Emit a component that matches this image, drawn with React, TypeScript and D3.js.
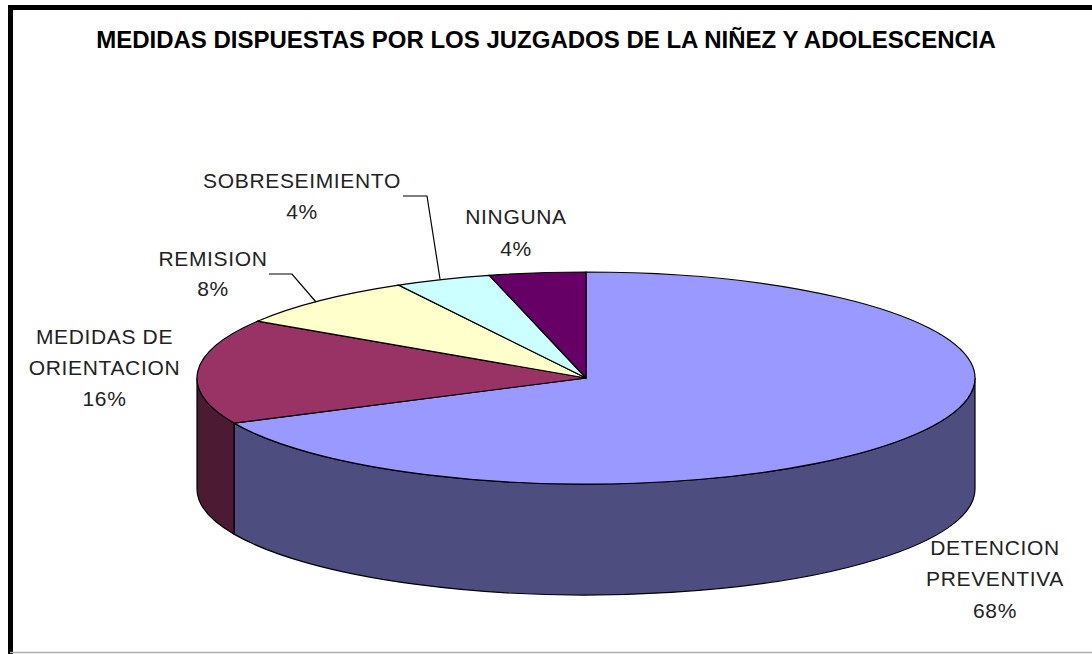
import React from "react";
import * as d3 from "d3";

const categories = ["DETENCION PREVENTIVA", "MEDIDAS DE ORIENTACION", "REMISION", "SOBRESEIMIENTO", "NINGUNA"];
const values = [68, 16, 8, 4, 4];
const topColors = ["#9999ff", "#993366", "#ffffcc", "#ccffff", "#660066"];
const sideColors = ["#4d4d80", "#4d1a33", "#808066", "#668080", "#330033"];
const labelLines = [["DETENCION", "PREVENTIVA", "68%"], ["MEDIDAS DE", "ORIENTACION", "16%"], ["REMISION", "8%"], ["SOBRESEIMIENTO", "4%"], ["NINGUNA", "4%"]];
const labelAnchors = [[995, 554.5], [104.5, 343.5], [213, 265.5], [302, 187.5], [516, 223.5]];
const labelGaps = [[0, 31, 63], [0, 31, 62], [0, 30], [0, 31], [0, 32]];
const leaders = [
  [[403, 196], [427, 196], [440, 279]],
  [[269, 274], [292, 274], [316, 302]],
];
const title = "MEDIDAS DISPUESTAS POR LOS JUZGADOS DE LA NIÑEZ Y ADOLESCENCIA";

const W = 1092, H = 654;
const cx = 586, cy = 378, rx = 389, ry = 106, depth = 111;

export default function App() {
  const arcs = d3.pie<number>().sort(null)(values);
  const arc = d3.arc<d3.PieArcDatum<number>>().innerRadius(0).outerRadius(rx);
  const px = (a: number) => cx + rx * Math.sin(a);
  const py = (a: number) => cy - ry * Math.cos(a);
  const wall = (a0: number, a1: number) => {
    const s = Math.max(a0, Math.PI / 2), e = Math.min(a1, (3 * Math.PI) / 2);
    if (e <= s) return null;
    return `M${px(s)},${py(s)}A${rx},${ry} 0 0 1 ${px(e)},${py(e)}L${px(e)},${py(e) + depth}A${rx},${ry} 0 0 0 ${px(s)},${py(s) + depth}Z`;
  };
  const line = d3.line();
  const font = "'Liberation Sans', Arial, sans-serif";
  return (
    <svg width={W} height={H} style={{ position: "absolute", left: 0, top: 0, background: "#fff" }}>
      <path d={`M${W},7.5H10.5V${H}`} fill="none" stroke="#000" strokeWidth={5} />
      <line x1={10} x2={W} y1={652.5} y2={652.5} stroke="#b0b0b0" strokeWidth={1.5} />
      <text x={546} y={47.5} textAnchor="middle" fontFamily={font} fontWeight="bold" fontSize={24} fill="#000">{title}</text>
      {arcs.map((d, i) => {
        const p = wall(d.startAngle, d.endAngle);
        return p ? <path key={i} d={p} fill={sideColors[i]} stroke="#000" strokeWidth={1.2} /> : null;
      })}
      {arcs.map((d, i) => (
        <path key={i} d={arc(d) as string} transform={`translate(${cx},${cy}) scale(1,${ry / rx})`} fill={topColors[i]} stroke="#000" strokeWidth={1.2} vectorEffect="non-scaling-stroke" />
      ))}
      {leaders.map((l, i) => (
        <path key={i} d={line(l as [number, number][]) as string} fill="none" stroke="#000" strokeWidth={1.2} />
      ))}
      {labelLines.map((ls, i) => (
        <text key={categories[i]} fontFamily={font} fontSize={21} letterSpacing={0.65} fill="#222" textAnchor="middle">
          {ls.map((t, j) => (
            <tspan key={j} x={labelAnchors[i][0]} y={labelAnchors[i][1] + labelGaps[i][j]}>{t}</tspan>
          ))}
        </text>
      ))}
    </svg>
  );
}
